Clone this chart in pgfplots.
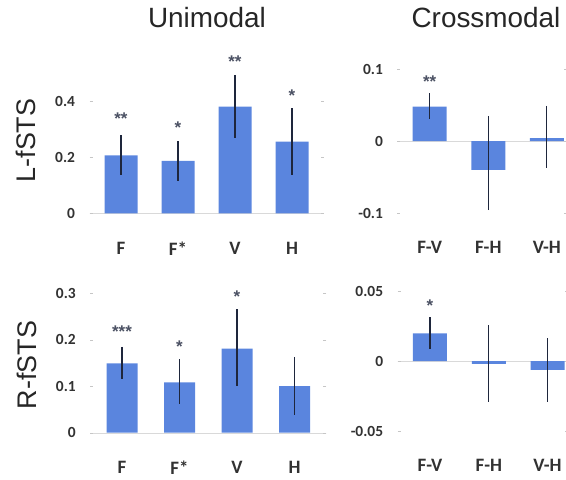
\documentclass[border=0pt]{standalone}
\usepackage{pgfplots}
\pgfplotsset{compat=1.18}
\usepackage{fontspec}
\setmainfont{Carlito}
\newfontfamily\arialf{Liberation Sans}
\definecolor{barblue}{RGB}{90,133,222}
\definecolor{errc}{RGB}{30,38,60}
\definecolor{tickc}{RGB}{50,50,50}
\pgfplotsset{
  panel/.style={
    scale only axis, anchor=south west, clip=false,
    axis line style={draw=none},
    ybar, bar shift=0pt,
    scaled y ticks=false,
    tick style={draw=gray!45, thin},
    major tick length=3bp,
    tick align=outside,
    xtick style={draw=none},
    yticklabel style={font=\bfseries\fontsize{15.5}{15.5}\selectfont, text=tickc, xshift=-11bp},
    xticklabel style={font=\bfseries\fontsize{19}{19}\selectfont, text=tickc, yshift=-22bp},
    extra y ticks={0}, extra y tick labels={},
    extra y tick style={grid=major, major grid style={gray!30, thin}},
  },
  bars/.style={fill=barblue, draw=none, bar width=#1,
    error bars/.cd, y dir=both, y explicit,
    error bar style={line width=1.3bp, draw=errc}, error mark=none},
}
\tikzset{star/.style={font=\arialf\bfseries\fontsize{17}{17}\selectfont, text=errc!80, anchor=base, yshift=-11bp}}
\begin{document}
\begin{tikzpicture}
\useasboundingbox (0,0) rectangle (566bp,-480bp);
\node[font=\arialf\fontsize{28}{28}\selectfont, text=black!85] at (207bp,-18bp) {Unimodal};
\node[font=\arialf\fontsize{28}{28}\selectfont, text=black!85] at (486bp,-18bp) {Crossmodal};
\node[font=\arialf\fontsize{27}{27}\selectfont, rotate=90, text=black!85] at (26bp,-140.5bp) {L-fSTS};
\node[font=\arialf\fontsize{27}{27}\selectfont, rotate=90, text=black!85] at (27bp,-365bp) {R-fSTS};

% Top-left
\begin{axis}[panel, at={(92.5bp,-213.3bp)}, width=228bp, height=168bp,
  xmin=-0.5, xmax=3.5, ymin=0, ymax=0.6,
  xtick={0,1,2,3}, xticklabels={F,F*,V,H},
  ytick={0,0.2,0.4}, yticklabels={0,0.2,0.4}]
\addplot[bars=33bp] coordinates {
  (0,0.207) +- (0,0.071)
  (1,0.187) +- (0,0.070)
  (2,0.381) +- (0,0.113)
  (3,0.256) +- (0,0.120)
};
\node[star] at (axis cs:0,0.357) {**};
\node[star] at (axis cs:1,0.324) {*};
\node[star] at (axis cs:2,0.559) {**};
\node[star] at (axis cs:3,0.440) {*};
\end{axis}

% Top-right
\begin{axis}[panel, at={(400.4bp,-213bp)}, width=164bp, height=144bp,
  xmin=-0.5, xmax=2.3, ymin=-0.1, ymax=0.1,
  xtick={0,1,2}, xticklabels={F-V,F-H,V-H},
  ytick={-0.1,0,0.1}, yticklabels={-0.1,0,0.1}]
\addplot[bars=34bp] coordinates {
  (0,0.0476) += (0,0.0185) -= (0,0.0170)
  (1,-0.040) += (0,0.075) -= (0,0.056)
  (2,0.004) += (0,0.045) -= (0,0.041)
};
\node[star] at (axis cs:0,0.090) {**};
\end{axis}

% Bottom-left
\begin{axis}[panel, at={(93.25bp,-432.7bp)}, width=230bp, height=162.75bp,
  xmin=-0.5, xmax=3.5, ymin=0, ymax=0.35,
  xtick={0,1,2,3}, xticklabels={F,F*,V,H},
  ytick={0,0.1,0.2,0.3}, yticklabels={0,0.1,0.2,0.3}]
\addplot[bars=31bp] coordinates {
  (0,0.149) += (0,0.036) -= (0,0.034)
  (1,0.108) += (0,0.050) -= (0,0.046)
  (2,0.181) += (0,0.084) -= (0,0.081)
  (3,0.100) += (0,0.063) -= (0,0.062)
};
\node[star] at (axis cs:0,0.228) {***};
\node[star] at (axis cs:1,0.196) {*};
\node[star] at (axis cs:2,0.303) {*};
\end{axis}

% Bottom-right
\begin{axis}[panel, at={(400.6bp,-431bp)}, width=164.6bp, height=140bp,
  xmin=-0.5, xmax=2.3, ymin=-0.05, ymax=0.05,
  xtick={0,1,2}, xticklabels={F-V,F-H,V-H},
  ytick={-0.05,0,0.05}, yticklabels={-0.05,0,0.05}]
\addplot[bars=34bp] coordinates {
  (0,0.0198) += (0,0.0114) -= (0,0.0114)
  (1,-0.002) += (0,0.0277) -= (0,0.027)
  (2,-0.0064) += (0,0.0226) -= (0,0.0226)
};
\node[star] at (axis cs:0,0.0429) {*};
\end{axis}
\end{tikzpicture}
\end{document}
